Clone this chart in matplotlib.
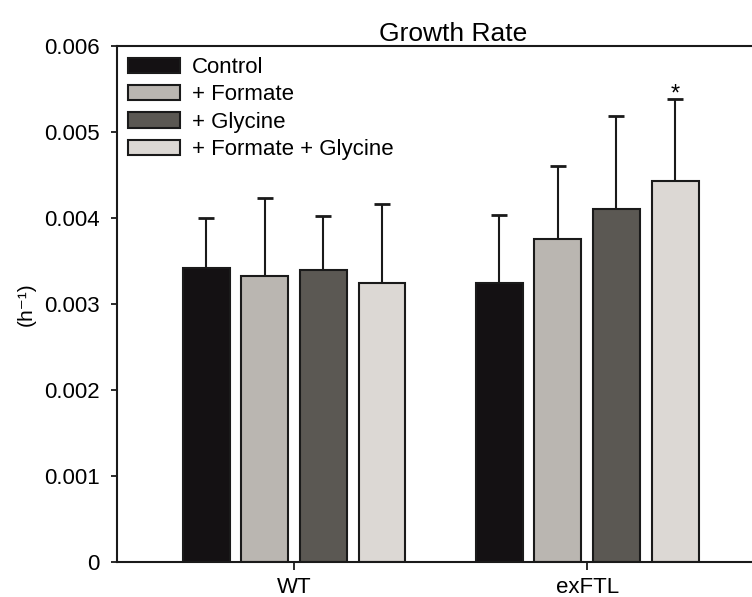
import numpy as np
import matplotlib.pyplot as plt
from matplotlib.patches import Patch

plt.rcParams['font.family'] = ['Liberation Sans', 'DejaVu Sans']

# growth rate per strain and treatment (h^-1), mean and upper error
strains = ['WT', 'exFTL']
treatments = ['Control', '+ Formate', '+ Glycine', '+ Formate + Glycine']
colors = ['#141113', '#bab6b1', '#5b5853', '#dcd8d4']

control = [0.00342, 0.00325]
formate = [0.00332, 0.00376]
glycine = [0.00340, 0.00411]
formate_glycine = [0.00324, 0.00443]

control_err = [0.00058, 0.00079]
formate_err = [0.00091, 0.00084]
glycine_err = [0.00062, 0.00108]
formate_glycine_err = [0.00092, 0.00095]

means = [control, formate, glycine, formate_glycine]
errs = [control_err, formate_err, glycine_err, formate_glycine_err]

fig = plt.figure(figsize=(7.52, 5.97), dpi=100)
ax = fig.add_axes([117/752, 1 - 562/597, (763 - 117)/752, (562 - 46)/597])

x = np.arange(len(strains))
width = 0.16
offsets = [-0.3, -0.1, 0.1, 0.3]

for m, e, c, off, lab in zip(means, errs, colors, offsets, treatments):
    ax.bar(x + off, m, width, color=c, edgecolor='#1a1a1a', linewidth=1.5, label=lab, zorder=2)
    ax.errorbar(x + off, m, yerr=[np.zeros(len(m)), e], fmt='none', ecolor='#1a1a1a',
                elinewidth=1.5, capsize=6, capthick=2, zorder=1)

# significance mark on exFTL formate + glycine
ax.text(x[1] + offsets[3], formate_glycine[1] + formate_glycine_err[1] - 0.00007, '*',
        ha='center', va='bottom', fontsize=17)

ax.set_xlim(-0.604, 1.6)
ax.set_ylim(0, 0.006)
ax.set_yticks([0, 0.001, 0.002, 0.003, 0.004, 0.005, 0.006])
ax.set_yticklabels(['0', '0.001', '0.002', '0.003', '0.004', '0.005', '0.006'])
ax.set_xticks(x)
ax.set_xticklabels(strains)
ax.tick_params(axis='both', labelsize=16, direction='out', width=1.3, color='#1a1a1a')
ax.tick_params(axis='y', length=4.5, pad=8)
ax.tick_params(axis='x', length=6, pad=4.5)
for s in ['left', 'bottom', 'top']:
    ax.spines[s].set_linewidth(1.5)
    ax.spines[s].set_color('#1a1a1a')
ax.spines['right'].set_visible(False)

ax.set_ylabel('(h⁻¹)', fontsize=15, labelpad=6)
ax.set_title('Growth Rate', fontsize=19, x=0.52, pad=3)

handles = [Patch(facecolor=c, edgecolor='#1a1a1a', linewidth=1.5) for c in colors]
ax.legend(handles, treatments, loc='upper left', bbox_to_anchor=(-0.003, 1.004), frameon=False,
          fontsize=16, handlelength=2.3, handleheight=0.68, labelspacing=0.28,
          handletextpad=0.55, borderaxespad=0.3, borderpad=0.3)

fig.savefig('out.png', dpi=100)
